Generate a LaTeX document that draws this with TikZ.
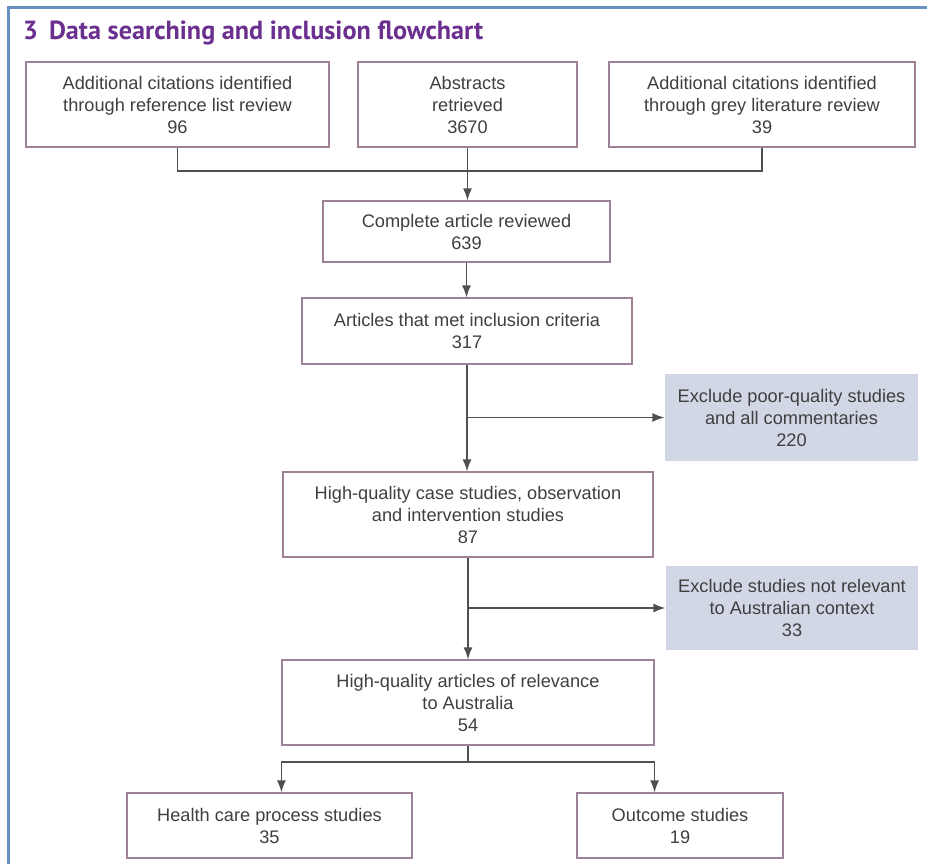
\documentclass[tikz,border=0pt]{standalone}
\usepackage{fontspec}
\setmainfont{Liberation Sans}
\newfontfamily\titlefont{PT Sans}
\usepackage{xcolor}
\usetikzlibrary{arrows.meta}
\definecolor{framecol}{HTML}{6590C0}
\definecolor{titlecol}{HTML}{6B2F8F}
\definecolor{boxline}{HTML}{9D8297}
\definecolor{boxtext}{HTML}{3F3F3F}
\definecolor{exclfill}{HTML}{D2D7E6}
\definecolor{arrowcol}{HTML}{505050}
\tikzset{>={Latex[length=12pt,width=9pt]}}

\begin{document}
\begin{tikzpicture}[x=1pt,y=-1pt]
                % one unit = one pixel of the reference, y grows downwards
                \tikzstyle{box}=[draw=boxline, line width=1.2pt, align=center, inner sep=0pt,
                    text=boxtext, font=\fontsize{18.2}{22}\selectfont]
                \tikzstyle{excl}=[box, draw=none, fill=exclfill]
                \tikzstyle{link}=[arrowcol, line width=1.4pt]
                \useasboundingbox (0,0) rectangle (927,864);
                \draw[framecol, line width=3pt] (8,864) -- (8,8) -- (927,8);
                \node[anchor=base west, inner sep=0pt, text=titlecol, font=\titlefont\bfseries\fontsize{26.2}{30}\selectfont]
                    (title) at (23,40) {3\, Data searching and inclusion flowchart};

                \node[box, minimum width=303, minimum height=85] (refs) at (177.5,104.5)
                    {Additional citations identified\\through reference list review\\96};
                \node[box, minimum width=219, minimum height=85] (abs) at (467.5,104.5)
                    {Abstracts\\retrieved\\3670};
                \node[box, minimum width=306, minimum height=85] (grey) at (762,104.5)
                    {Additional citations identified\\through grey literature review\\39};
                \node[box, minimum width=287, minimum height=61] (full) at (466.5,231.5)
                    {Complete article reviewed\\639};
                \node[box, minimum width=330, minimum height=66] (met) at (467,331)
                    {Articles that met inclusion criteria\\317};
                \node[excl, minimum width=253, minimum height=87] (poor) at (791.5,417.5)
                    {Exclude poor-quality studies\\and all commentaries\\220};
                \node[box, minimum width=370, minimum height=85] (hq) at (468,514.5)
                    {High-quality case studies, observation\\and intervention studies\\87};
                \node[excl, minimum width=252, minimum height=84] (notaus) at (792,608)
                    {Exclude studies not relevant\\to Australian context\\33};
                \node[box, minimum width=372, minimum height=85] (aus) at (468,702.5)
                    {High-quality articles of relevance\\to Australia\\54};
                \node[box, minimum width=285, minimum height=65] (proc) at (269.5,825.5)
                    {Health care process studies\\35};
                \node[box, minimum width=206, minimum height=65] (outc) at (680,825.5)
                    {Outcome studies\\19};

                \coordinate (merge) at (467,171);
                \coordinate (split) at (468,762);
                \draw[link] (refs.south) |- (merge) -| (grey.south);
                \draw[link, ->] (abs.south) -- (abs.south |- full.north);
                \draw[link, ->] (full.south) -- (full.south |- met.north);
                \draw[link, ->] (met.south) -- (met.south |- hq.north);
                \draw[link, ->] (met.south |- poor.west) -- (poor.west);
                \draw[link, ->] (hq.south) -- (aus.north);
                \draw[link, ->] (hq.south |- notaus.west) -- (notaus.west);
                \draw[link] (aus.south) -- (split);
                \draw[link, ->] (split) -| (proc.north -| aus.west);
                \draw[link, ->] (split) -| (outc.north -| aus.east);
\end{tikzpicture}
\end{document}
